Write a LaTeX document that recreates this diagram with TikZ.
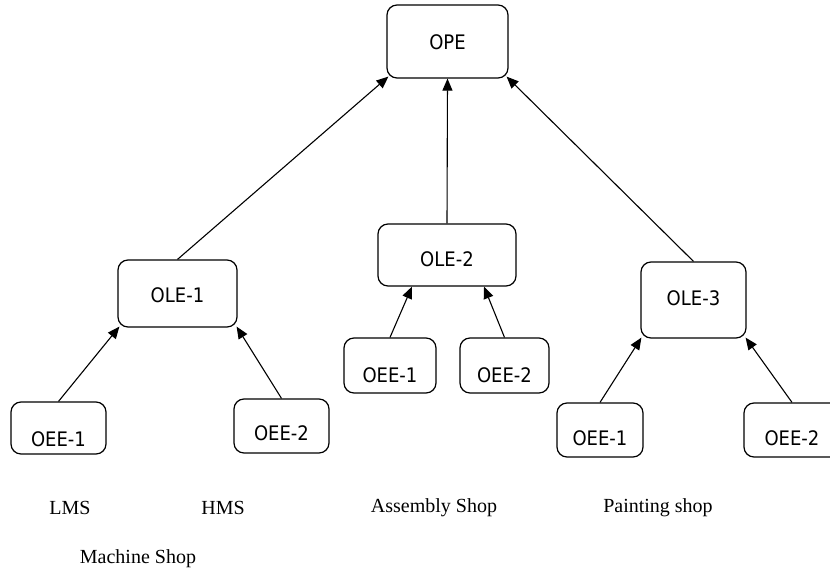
\documentclass[tikz,border=0pt]{standalone}
\usepackage{fontspec}
\setmainfont{Liberation Serif}
\newfontfamily\boxfont[FakeStretch=0.9]{DejaVu Sans}
\usetikzlibrary{arrows.meta,calc}
\begin{document}
\begin{tikzpicture}[x=1pt,y=-1pt,
  box/.style={draw,line width=1.2pt,rounded corners=10pt,inner sep=0pt},
  boxtxt/.style={font=\boxfont\fontsize{20}{24}\selectfont},
  lbl/.style={font=\fontsize{20}{24}\selectfont,inner sep=0pt},
  arr/.style={line width=1.1pt,-{Triangle[length=12pt,width=10pt]}},
  conn/.style={line width=1.1pt}]
\useasboundingbox (0,0) rectangle (830,573);
\begin{scope}
\clip (0,0) rectangle (830,573);
% top
\node[box,minimum width=121pt,minimum height=73pt] (ope) at (447.5,41.5) {};
\node[boxtxt] at (447.5,42) {OPE};
% middle level
\node[box,minimum width=119pt,minimum height=67pt] (ole1) at (177.5,293.5) {};
\node[boxtxt] at (177.5,295) {OLE-1};
\node[box,minimum width=138pt,minimum height=62pt] (ole2) at (447,255) {};
\node[boxtxt] at (447,259) {OLE-2};
\node[box,minimum width=105pt,minimum height=76pt] (ole3) at (693.5,300) {};
\node[boxtxt] at (693.5,298) {OLE-3};
% bottom level
\node[box,minimum width=95pt,minimum height=52pt] (ea1) at (58.5,428) {};
\node[boxtxt] at (58.5,439) {OEE-1};
\node[box,minimum width=95pt,minimum height=54pt] (ea2) at (281.5,426) {};
\node[boxtxt] at (281.5,433) {OEE-2};
\node[box,minimum width=92pt,minimum height=55pt] (eb1) at (390,365.5) {};
\node[boxtxt] at (390,375) {OEE-1};
\node[box,minimum width=89pt,minimum height=55pt] (eb2) at (504.5,365.5) {};
\node[boxtxt] at (504.5,375) {OEE-2};
\node[box,minimum width=86pt,minimum height=54pt] (ec1) at (600,430) {};
\node[boxtxt] at (600,438) {OEE-1};
\node[box,minimum width=96pt,minimum height=54pt] (ec2) at (792,430) {};
\node[boxtxt] at (792,438) {OEE-2};
% connectors
\draw[arr] (ole1.north) -- ($(ope.south west)+(2,-2)$);
\draw[arr] (ole2.north) -- (ope.south);
\draw[arr] (ole3.north) -- ($(ope.south east)+(-2,-2)$);
\draw[arr] (ea1.north) -- ($(ole1.south west)+(2,-1)$);
\draw[arr] (ea2.north) -- ($(ole1.south east)+(-1,-1)$);
\draw[arr] (eb1.north) -- ($(ole2.south)+(-35,0)$);
\draw[arr] (eb2.north) -- ($(ole2.south)+(37,0)$);
\draw[arr] (ec1.north) -- ($(ole3.south west)+(1,-1)$);
\draw[arr] (ec2.north) -- ($(ole3.south east)+(-1,-1)$);
\end{scope}
% labels
\node[lbl] (lms) at (70,508) {LMS};
\node[lbl] (hms) at (223,508) {HMS};
\node[lbl] (asm) at (434,508) {Assembly Shop};
\node[lbl] (pnt) at (658,508) {Painting shop};
\node[lbl] (mach) at (138,559) {Machine Shop};
\end{tikzpicture}
\end{document}
